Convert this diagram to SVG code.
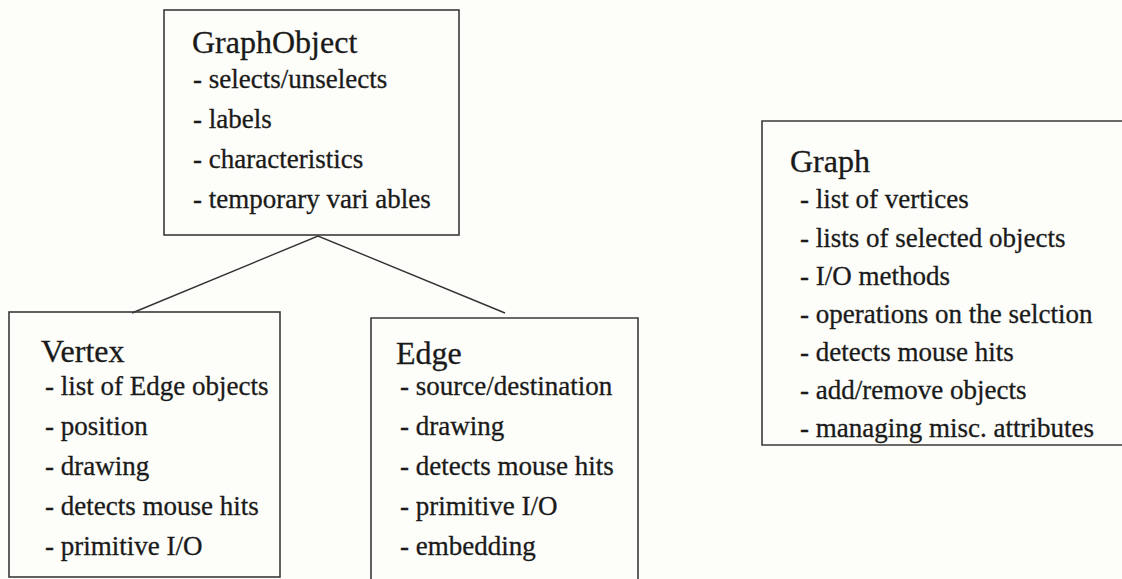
<svg xmlns="http://www.w3.org/2000/svg" width="1122" height="579" viewBox="0 0 1122 579">
<style>
.box{fill:none;stroke:#3a3a3a;stroke-width:1.6}
.conn{fill:none;stroke:#333;stroke-width:1.4}
.title{font-family:"Liberation Serif",serif;font-size:32px;fill:#1a1a1a;stroke:#1a1a1a;stroke-width:0.3}
.item{font-family:"Liberation Serif",serif;font-size:27px;fill:#1a1a1a;stroke:#1a1a1a;stroke-width:0.3}
</style>
<rect width="1122" height="579" fill="#fdfdf9"/>
<g id="connectors">
<path class="conn" d="M132,313 L318,236 L505,313"/>
</g>
<g id="graphobject">
<rect class="box" x="164" y="10" width="295" height="225"/>
<text class="title" x="192" y="53">GraphObject</text>
<text class="item" x="193" y="88">- selects/unselects</text>
<text class="item" x="193" y="128">- labels</text>
<text class="item" x="193" y="168">- characteristics</text>
<text class="item" x="193" y="208">- temporary vari ables</text>
</g>
<g id="vertex">
<rect class="box" x="9" y="312" width="271" height="265"/>
<text class="title" x="41" y="362">Vertex</text>
<text class="item" x="45" y="395">- list of Edge objects</text>
<text class="item" x="45" y="435">- position</text>
<text class="item" x="45" y="475">- drawing</text>
<text class="item" x="45" y="515">- detects mouse hits</text>
<text class="item" x="45" y="555">- primitive I/O</text>
</g>
<g id="edge">
<path class="box" d="M371,585 L371,318 L638,318 L638,585"/>
<text class="title" x="396" y="364">Edge</text>
<text class="item" x="400" y="395">- source/destination</text>
<text class="item" x="400" y="435">- drawing</text>
<text class="item" x="400" y="475">- detects mouse hits</text>
<text class="item" x="400" y="515">- primitive I/O</text>
<text class="item" x="400" y="555">- embedding</text>
</g>
<g id="graph">
<path class="box" d="M1125,121 L762,121 L762,445 L1125,445"/>
<text class="title" x="790" y="172">Graph</text>
<text class="item" x="800" y="208">- list of vertices</text>
<text class="item" x="800" y="247">- lists of selected objects</text>
<text class="item" x="800" y="285">- I/O methods</text>
<text class="item" x="800" y="323">- operations on the selction</text>
<text class="item" x="800" y="361">- detects mouse hits</text>
<text class="item" x="800" y="399">- add/remove objects</text>
<text class="item" x="800" y="437">- managing misc. attributes</text>
</g>
</svg>
